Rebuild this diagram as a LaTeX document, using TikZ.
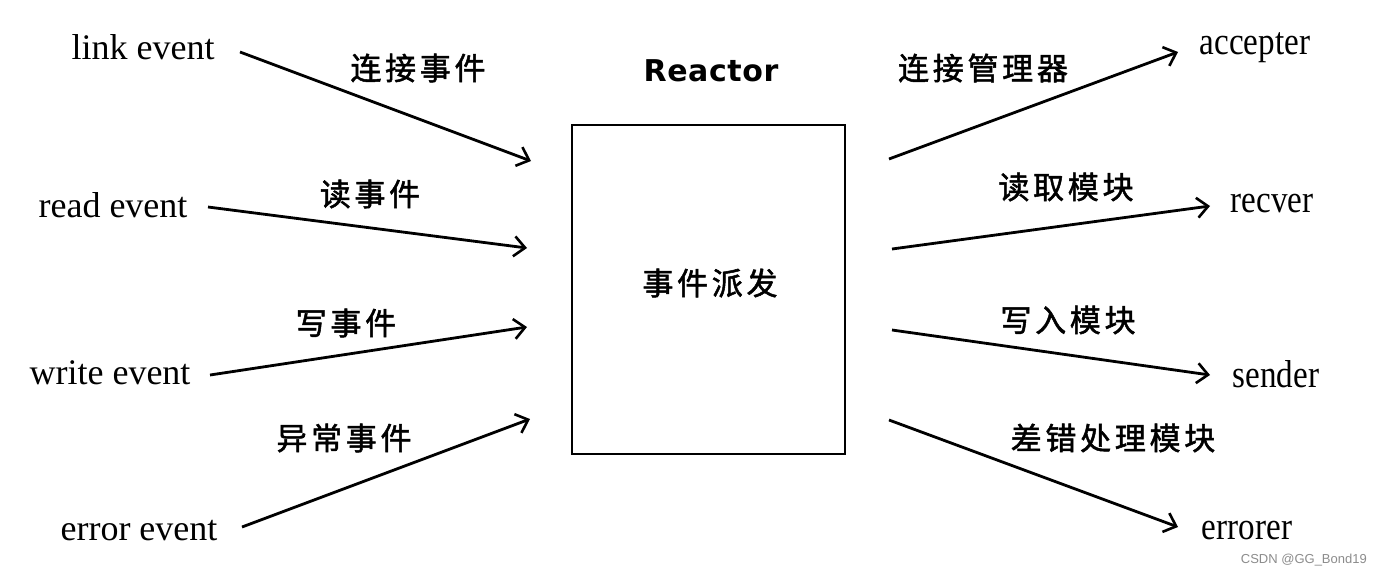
\documentclass[tikz,border=0pt]{standalone}
\usepackage{fontspec}
\setmainfont{Liberation Serif}
\newfontfamily\cjk[LetterSpace=12,FakeBold=1.6]{Noto Sans CJK SC}
\newfontfamily\rfont[LetterSpace=2]{DejaVu Sans}
\newfontfamily\wfont{Liberation Sans}
\usetikzlibrary{arrows.meta}
\begin{document}
\begin{tikzpicture}[x=1pt,y=-1pt,
  en/.style={font=\fontsize{36}{40}\selectfont, inner sep=0pt},
  enr/.style={font=\fontsize{36}{40}\selectfont, inner sep=0pt, xscale=0.92, yscale=1.08},
  cn/.style={font=\cjk\fontsize{31}{36}\selectfont, inner sep=0pt},
  arr/.style={line width=2.8pt, -{Straight Barb[length=11pt,width=20pt,line width=2.6pt]}}]
\useasboundingbox (0,0) rectangle (1383,576);
\fill[white] (0,0) rectangle (1383,576);
% box
\node[draw, line width=2.8pt, minimum width=273pt, minimum height=329pt, inner sep=0pt] (box) at (708.5,289.5) {};
\node[cn] (disp) at (710,283) {事件派发};
\node[font=\rfont\bfseries\fontsize{30}{34}\selectfont, inner sep=0pt] (reactor) at (711,71) {Reactor};
% left labels
\node[en] (link) at (143,47) {link event};
\node[en] (read) at (113,205) {read event};
\node[en] (write) at (110,373) {write event};
\node[en] (error) at (139,531) {error event};
\node[cn] (l1) at (418,68) {连接事件};
\node[cn] (l2) at (370,194) {读事件};
\node[cn] (l3) at (346,323) {写事件};
\node[cn] (l4) at (344,438) {异常事件};
% right labels
\node[enr] (acc) at (1255,48) {accepter};
\node[enr] (rec) at (1272,204) {recver};
\node[enr] (snd) at (1276,374) {sender};
\node[enr] (err) at (1247,531) {errorer};
\node[cn] (r1) at (983,68) {连接管理器};
\node[cn] (r2) at (1066,187) {读取模块};
\node[cn] (r3) at (1068,320) {写入模块};
\node[cn] (r4) at (1113,438) {差错处理模块};
\node[font=\wfont\fontsize{13}{15}\selectfont, text=black!45, anchor=east, inner sep=0pt] (wm) at (1367,560) {CSDN @GG\_Bond19};
% arrow end points
\coordinate (a1s) at (240,52);  \coordinate (a1e) at (531,161);
\coordinate (a2s) at (208,207); \coordinate (a2e) at (527,248);
\coordinate (a3s) at (210,375); \coordinate (a3e) at (527,327);
\coordinate (a4s) at (242,527); \coordinate (a4e) at (530,419);
\coordinate (b1s) at (889,159); \coordinate (b1e) at (1178,52);
\coordinate (b2s) at (892,249); \coordinate (b2e) at (1210,206);
\coordinate (b3s) at (892,330); \coordinate (b3e) at (1210,375);
\coordinate (b4s) at (889,420); \coordinate (b4e) at (1178,527);
\draw[arr] (a1s) -- (a1e);
\draw[arr] (a2s) -- (a2e);
\draw[arr] (a3s) -- (a3e);
\draw[arr] (a4s) -- (a4e);
\draw[arr] (b1s) -- (b1e);
\draw[arr] (b2s) -- (b2e);
\draw[arr] (b3s) -- (b3e);
\draw[arr] (b4s) -- (b4e);
\end{tikzpicture}
\end{document}
